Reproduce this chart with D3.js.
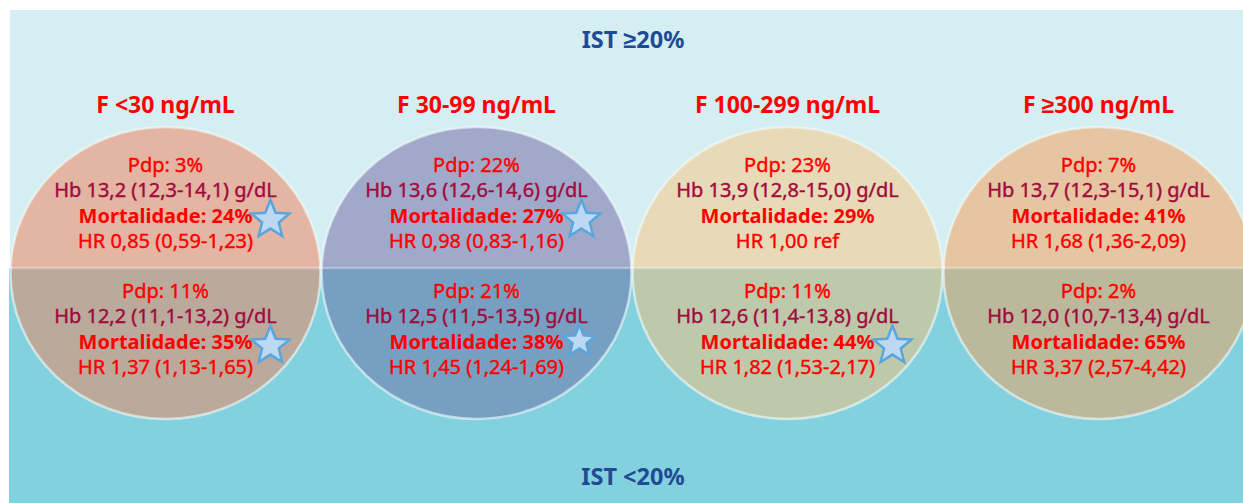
<!DOCTYPE html>
<html><head><meta charset="utf-8">
<script src="https://cdn.jsdelivr.net/npm/d3@7/dist/d3.min.js"></script>
<style>html,body{margin:0;padding:0;background:#fff;}svg{display:block;}</style>
</head><body>
<svg id="chart" width="1243" height="503"></svg>
<script>
// ---- data ----
const categories = ["F <30 ng/mL", "F 30-99 ng/mL", "F 100-299 ng/mL", "F \u2265300 ng/mL"];
const groups = ["IST \u226520%", "IST <20%"];

const pdpHigh = [3, 22, 23, 7];
const hbHigh = [13.2, 13.6, 13.9, 13.7];
const hbHighLo = [12.3, 12.6, 12.8, 12.3];
const hbHighHi = [14.1, 14.6, 15.0, 15.1];
const mortHigh = [24, 27, 29, 41];
const hrHigh = [0.85, 0.98, 1.00, 1.68];
const hrHighLo = [0.59, 0.83, null, 1.36];
const hrHighHi = [1.23, 1.16, null, 2.09];
const starHigh = [true, true, false, false];

const pdpLow = [11, 21, 11, 2];
const hbLow = [12.2, 12.5, 12.6, 12.0];
const hbLowLo = [11.1, 11.5, 11.4, 10.7];
const hbLowHi = [13.2, 13.5, 13.8, 13.4];
const mortLow = [35, 38, 44, 65];
const hrLow = [1.37, 1.45, 1.82, 3.37];
const hrLowLo = [1.13, 1.24, 1.53, 2.57];
const hrLowHi = [1.65, 1.69, 2.17, 4.42];
const starLow = [true, true, true, false];

// ---- styles ----
const bgColors = ["#d5eef2", "#83d1de"];
const circleTop = ["#e3b5a2", "#a1a9cb", "#e8dab6", "#e6c5a2"];
const circleBot = ["#bba99b", "#779fc1", "#bdc9aa", "#bcb89b"];
const RED = "#ff0000", CRIMSON = "#a10a3d", BLUE = "#1e4b93";
const FONT = "'Noto Sans', sans-serif";

const loc = d3.formatLocale({decimal: ",", thousands: ".", grouping: [3], currency: ["", ""]});
const f1 = loc.format(".1f"), f2 = loc.format(".2f");

const svg = d3.select("#chart");
const W = 1243, H = 503;
const midY = 268;

const x = d3.scaleBand().domain(categories).range([10, 1254]).padding(0);
const bandY = d3.scaleOrdinal().domain(groups).range([[10, midY], [midY, H]]);
const rx = 155, ry = 146, cy = 273;

// backgrounds
groups.forEach((g, i) => {
  const [y0, y1] = bandY(g);
  svg.append("rect").attr("x", i === 0 ? 10 : 9).attr("y", y0).attr("width", W).attr("height", y1 - y0).attr("fill", bgColors[i]);
});

// clip paths
const defs = svg.append("defs");
groups.forEach((g, i) => {
  const [y0, y1] = bandY(g);
  defs.append("clipPath").attr("id", "clip" + i).append("rect").attr("x", 0).attr("y", y0).attr("width", W).attr("height", y1 - y0);
});

// circles
categories.forEach((c, i) => {
  const cx = x(c) + x.bandwidth() / 2;
  svg.append("ellipse").attr("cx", cx).attr("cy", cy).attr("rx", rx).attr("ry", ry)
    .attr("fill", circleTop[i]).attr("clip-path", "url(#clip0)");
  svg.append("ellipse").attr("cx", cx).attr("cy", cy).attr("rx", rx).attr("ry", ry)
    .attr("fill", circleBot[i]).attr("clip-path", "url(#clip1)");
});
categories.forEach((c, i) => {
  const cx = x(c) + x.bandwidth() / 2;
  svg.append("ellipse").attr("cx", cx).attr("cy", cy).attr("rx", rx).attr("ry", ry)
    .attr("fill", "none").attr("stroke", "#f2fbfc").attr("stroke-opacity", 0.6).attr("stroke-width", 2.5);
});
// middle line
svg.append("line").attr("x1", 10).attr("x2", W).attr("y1", midY).attr("y2", midY)
  .attr("stroke", "#ffffff").attr("stroke-opacity", 0.3).attr("stroke-width", 2.5);

// group labels
svg.append("text").attr("x", 633).attr("y", 48).attr("text-anchor", "middle")
  .attr("font-family", FONT).attr("font-weight", 700).attr("font-size", 23.5).attr("fill", BLUE).text(groups[0]);
svg.append("text").attr("x", 633).attr("y", 485).attr("text-anchor", "middle")
  .attr("font-family", FONT).attr("font-weight", 700).attr("font-size", 23.5).attr("fill", BLUE).text(groups[1]);

// category titles
categories.forEach((c) => {
  svg.append("text").attr("x", x(c) + x.bandwidth() / 2).attr("y", 113).attr("text-anchor", "middle")
    .attr("font-family", FONT).attr("font-weight", 700).attr("font-size", 23).attr("fill", RED).text(c);
});

function starPath(cxs, cys, R, ratio) {
  const pts = d3.range(10).map(k => {
    const a = -Math.PI / 2 + k * Math.PI / 5;
    const r = k % 2 === 0 ? R : R * ratio;
    return [cxs + r * Math.cos(a), cys + r * Math.sin(a)];
  });
  return d3.line().curve(d3.curveLinearClosed)(pts);
}

const blocks = [
  {pdp: pdpHigh, hb: hbHigh, lo: hbHighLo, hi: hbHighHi, mort: mortHigh, hr: hrHigh, hrl: hrHighLo, hrh: hrHighHi, star: starHigh, base: 172},
  {pdp: pdpLow, hb: hbLow, lo: hbLowLo, hi: hbLowHi, mort: mortLow, hr: hrLow, hrl: hrLowLo, hrh: hrLowHi, star: starLow, base: 298}
];
const LH = 25.4;

blocks.forEach((b, bi) => {
  categories.forEach((c, i) => {
    const cx = x(c) + x.bandwidth() / 2;
    const g = svg.append("g").attr("font-family", FONT).attr("font-size", 20).attr("text-anchor", "middle");
    g.append("text").attr("x", cx).attr("y", b.base).attr("fill", RED)
      .attr("stroke", RED).attr("stroke-width", 0.4).text("Pdp: " + b.pdp[i] + "%");
    g.append("text").attr("x", cx).attr("y", b.base + LH).attr("fill", CRIMSON)
      .attr("stroke", CRIMSON).attr("stroke-width", 0.4)
      .text("Hb " + f1(b.hb[i]) + " (" + f1(b.lo[i]) + "-" + f1(b.hi[i]) + ") g/dL");
    const mt = g.append("text").attr("x", cx).attr("y", b.base + 2 * LH).attr("fill", RED).attr("font-weight", 700)
      .text("Mortalidade: " + b.mort[i] + "%");
    const hrTxt = b.hrl[i] == null ? "HR " + f2(b.hr[i]) + " ref"
      : "HR " + f2(b.hr[i]) + " (" + f2(b.hrl[i]) + "-" + f2(b.hrh[i]) + ")";
    g.append("text").attr("x", cx).attr("y", b.base + 3 * LH).attr("fill", RED)
      .attr("stroke", RED).attr("stroke-width", 0.4).text(hrTxt);
    if (b.star[i]) {
      const w = mt.node().getComputedTextLength();
      const small = (bi === 1 && i === 1);
      const R = small ? 16.5 : 20;
      svg.append("path").attr("d", starPath(cx + w / 2 + (small ? 16 : 18), b.base + 2 * LH - (small ? 7.5 : 3), R, 0.44))
        .attr("fill", "#bcd8f2").attr("stroke", "#5aa6dc").attr("stroke-width", 2.5).attr("stroke-linejoin", "miter");
    }
  });
});
</script>
</body></html>
